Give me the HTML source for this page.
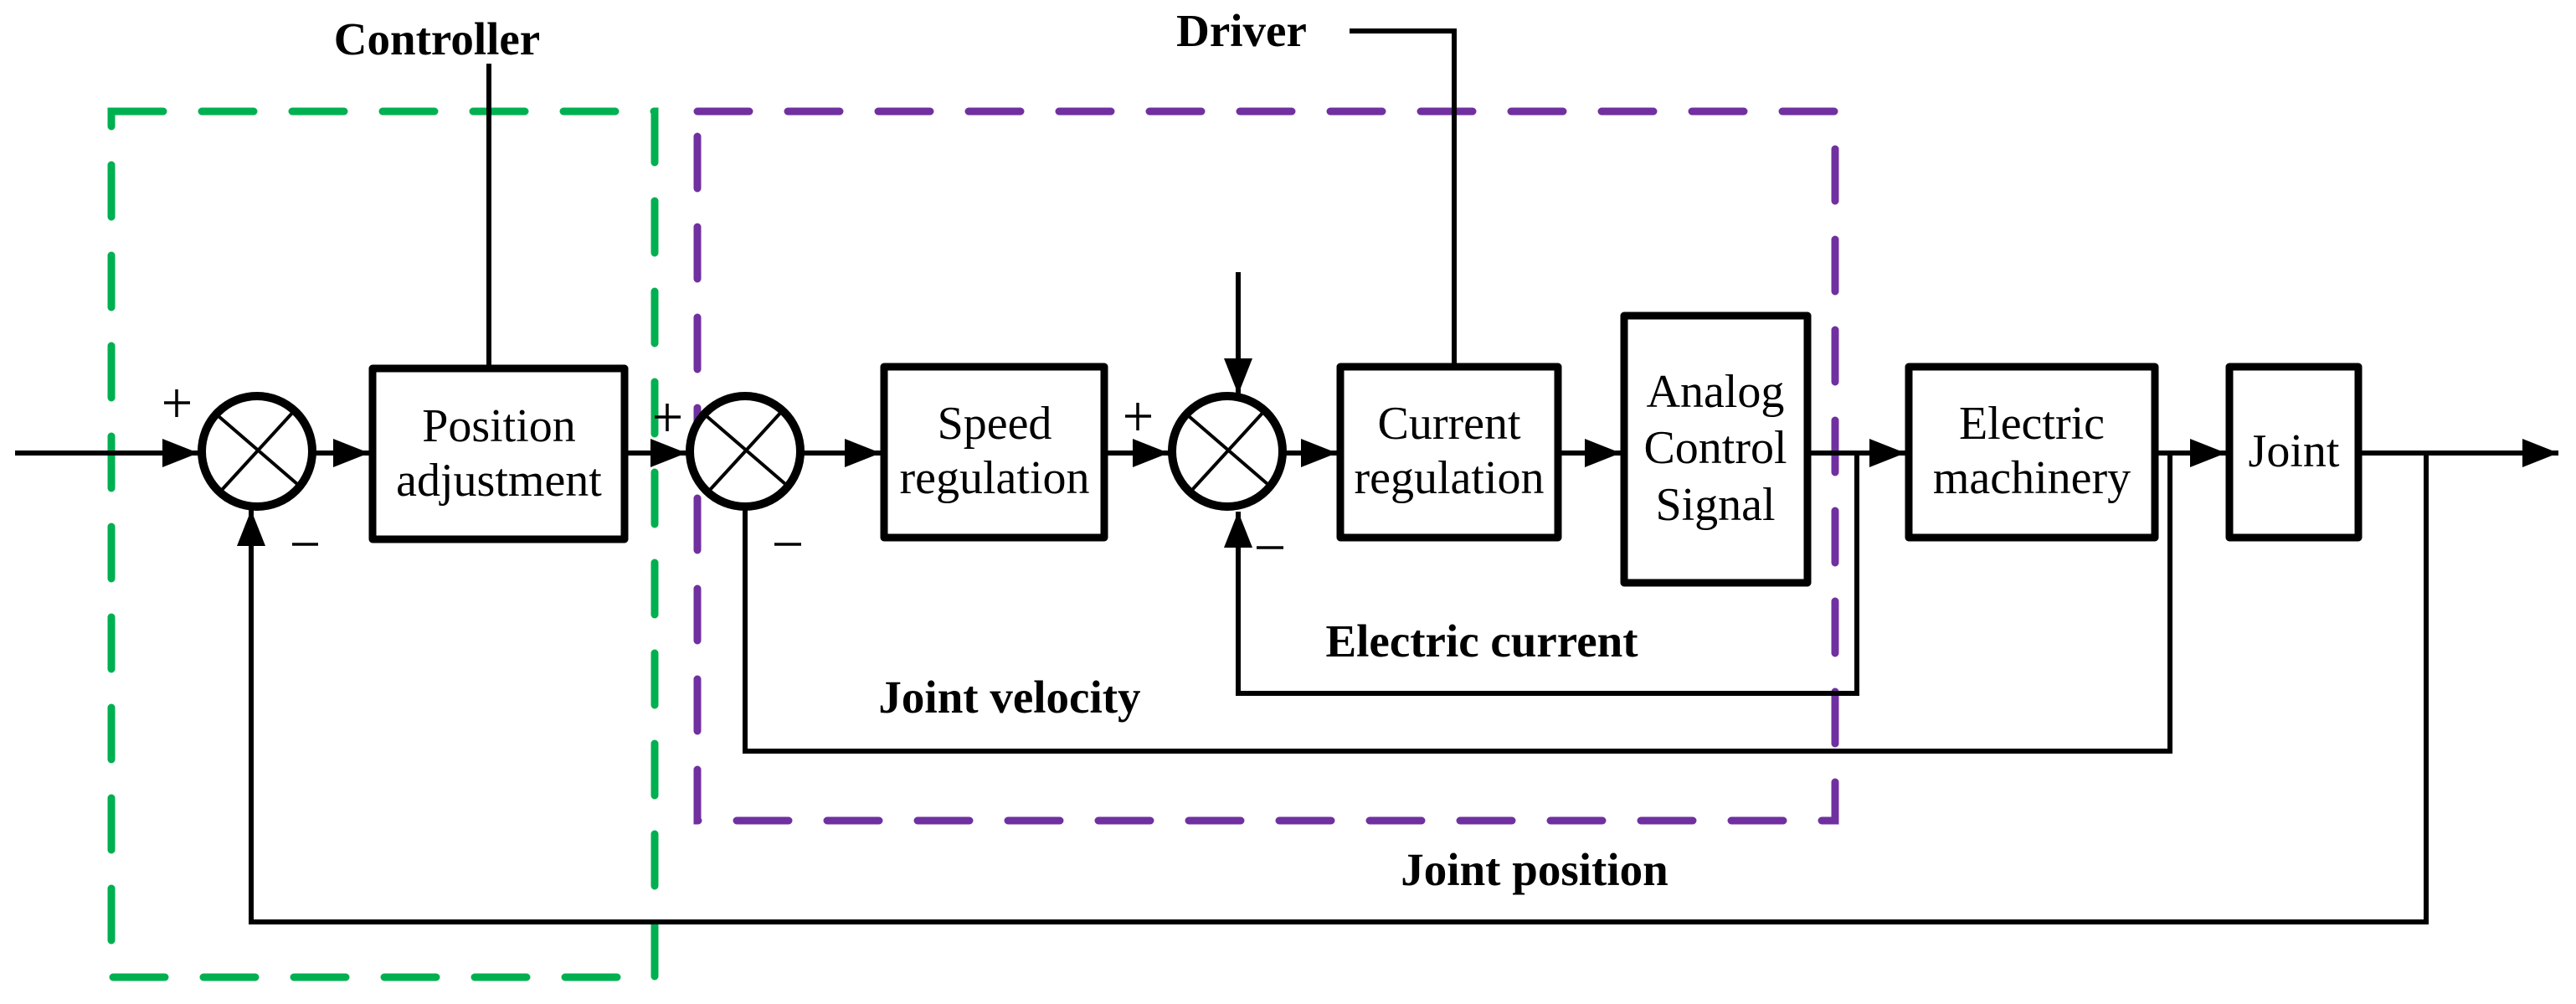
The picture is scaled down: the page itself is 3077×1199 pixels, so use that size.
<!DOCTYPE html>
<html><head><meta charset="utf-8"><style>
html,body{margin:0;padding:0;background:#fff;}
svg{display:block;}
text{font-family:"Liberation Serif",serif;fill:#000;}
.b{font-weight:bold;font-size:55px;}
.n{font-size:56px;}
</style></head><body>
<svg width="3077" height="1199" viewBox="0 0 3077 1199" xmlns="http://www.w3.org/2000/svg">
<defs>
<marker id="a" markerUnits="userSpaceOnUse" markerWidth="44" markerHeight="34" refX="43" refY="17" orient="auto">
<path d="M0,0 L43,17 L0,34 Z" fill="#000"/>
</marker>
</defs>
<!-- dashed boxes -->
<rect x="133" y="133" width="649" height="1034" fill="none" stroke="#00b050" stroke-width="9" stroke-dasharray="62 46" stroke-linecap="round"/>
<rect x="833" y="133" width="1359" height="847" fill="none" stroke="#7030a0" stroke-width="9" stroke-dasharray="62 46" stroke-linecap="round"/>

<g stroke="#000" stroke-width="6" fill="none">
<!-- controller / driver leaders -->
<line x1="584" y1="76" x2="584" y2="440"/>
<polyline points="1612,37 1737,37 1737,438"/>
<!-- main path -->
<line x1="18" y1="541" x2="237" y2="541" marker-end="url(#a)"/>
<line x1="377" y1="541" x2="441" y2="541" marker-end="url(#a)"/>
<line x1="750" y1="541" x2="820" y2="541" marker-end="url(#a)"/>
<line x1="960" y1="541" x2="1052" y2="541" marker-end="url(#a)"/>
<line x1="1323" y1="541" x2="1396" y2="541" marker-end="url(#a)"/>
<line x1="1536" y1="541" x2="1597" y2="541" marker-end="url(#a)"/>
<line x1="1865" y1="541" x2="1936" y2="541" marker-end="url(#a)"/>
<line x1="2163" y1="541" x2="2276" y2="541" marker-end="url(#a)"/>
<line x1="2578" y1="541" x2="2659" y2="541" marker-end="url(#a)"/>
<line x1="2821" y1="541" x2="3056" y2="541" marker-end="url(#a)"/>
<!-- disturbance -->
<line x1="1479" y1="325" x2="1479" y2="471" marker-end="url(#a)"/>
<!-- feedbacks -->
<polyline points="2218,541 2218,828 1479,828 1479,611" marker-end="url(#a)"/>
<polyline points="2592,541 2592,897 890,897 890,609"/>
<polyline points="2898,541 2898,1101 300,1101 300,609" marker-end="url(#a)"/>
</g>

<!-- summing junctions -->
<g stroke="#000" fill="#fff">
<circle cx="307" cy="539" r="66" stroke-width="10"/>
<circle cx="890" cy="539" r="66" stroke-width="10"/>
<circle cx="1466" cy="539" r="66" stroke-width="10"/>
</g>
<g stroke="#000" stroke-width="4">
<line x1="261" y1="497" x2="355" y2="578"/><line x1="352" y1="490" x2="265" y2="585"/>
<line x1="844" y1="497" x2="938" y2="578"/><line x1="935" y1="490" x2="848" y2="585"/>
<line x1="1420" y1="497" x2="1514" y2="578"/><line x1="1511" y1="490" x2="1424" y2="585"/>
</g>

<!-- blocks -->
<g stroke="#000" stroke-width="9" fill="none" stroke-linejoin="round">
<rect x="445" y="440" width="301" height="204"/>
<rect x="1056" y="438" width="263" height="204"/>
<rect x="1601" y="438" width="260" height="204"/>
<rect x="1940" y="377" width="219" height="319"/>
<rect x="2280" y="438" width="294" height="204"/>
<rect x="2663" y="438" width="154" height="204"/>
</g>

<!-- signs -->
<g stroke="#000" stroke-width="3.5">
<line x1="196" y1="481" x2="227" y2="481"/><line x1="211" y1="465" x2="211" y2="498"/>
<line x1="349" y1="650" x2="380" y2="650"/>
<line x1="782" y1="498" x2="813" y2="498"/><line x1="797" y1="482" x2="797" y2="515"/>
<line x1="925" y1="650" x2="957" y2="650"/>
<line x1="1344" y1="497" x2="1375" y2="497"/><line x1="1359" y1="481" x2="1359" y2="514"/>
<line x1="1501" y1="654" x2="1533" y2="654"/>
</g>

<!-- labels -->
<g text-anchor="middle">
<text class="b" x="522" y="65">Controller</text>
<text class="b" x="1483" y="55">Driver</text>
<text class="b" x="1770" y="784">Electric current</text>
<text class="b" x="1206" y="851">Joint velocity</text>
<text class="b" x="1833" y="1057">Joint position</text>
<text class="n" x="596" y="527">Position</text>
<text class="n" x="596" y="592">adjustment</text>
<text class="n" x="1188" y="524">Speed</text>
<text class="n" x="1188" y="589">regulation</text>
<text class="n" x="1731" y="524">Current</text>
<text class="n" x="1731" y="589">regulation</text>
<text class="n" x="2049" y="486">Analog</text>
<text class="n" x="2049" y="553">Control</text>
<text class="n" x="2049" y="621">Signal</text>
<text class="n" x="2427" y="524">Electric</text>
<text class="n" x="2427" y="589">machinery</text>
<text class="n" x="2740" y="557">Joint</text>
</g>
</svg>
</body></html>
